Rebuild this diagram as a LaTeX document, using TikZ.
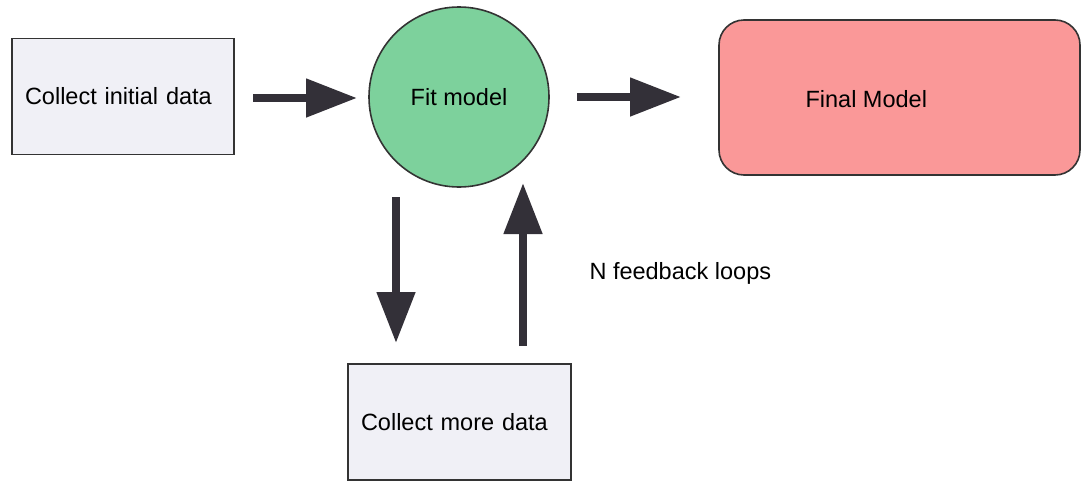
\documentclass[tikz,border=0pt]{standalone}
\usepackage{fontspec}
\setmainfont{Liberation Sans}
\usetikzlibrary{arrows.meta}
\definecolor{boxfill}{HTML}{F0F0F6}
\definecolor{fitgreen}{HTML}{7DD19C}
\definecolor{finalpink}{HTML}{FA9898}
\definecolor{edgegray}{HTML}{333333}
\definecolor{arrowdark}{HTML}{333038}
\tikzset{
  txt/.style={font=\fontsize{23.5}{28}\selectfont, text=black},
  datebox/.style={draw=edgegray, line width=1.6pt, fill=boxfill, minimum width=222pt,
    minimum height=116pt, inner xsep=13pt, text width=196pt, align=left, txt},
  fitcircle/.style={circle, draw=edgegray, line width=1.6pt, fill=fitgreen, minimum size=180pt, txt},
  finalbox/.style={draw=edgegray, line width=1.6pt, fill=finalpink, rounded corners=25pt},
  bigarrow/.style={draw=arrowdark, line width=8pt,
    -{Triangle[length=51pt, width=37pt]}, arrowdark},
}
\begin{document}
\begin{tikzpicture}[x=1pt, y=-1pt]
\useasboundingbox (0,0) rectangle (1081,482);
\fill[white] (0,0) rectangle (1081,482);
% nodes
\node[datebox] (init) at (123,96.5) {Collect initial data};
\node[fitcircle] (fit) at (459,97) {Fit model};
\node[finalbox, minimum width=361pt, minimum height=155pt] (final) at (899.5,97.5) {};
\node[txt, anchor=west] (finaltxt) at (802,99) {Final Model};
\node[datebox, text width=197pt] (more) at (459.5,422) {Collect more data};
\node[txt, anchor=west] (loops) at (586,273) {N feedback loops};
% connector anchor points
\coordinate (a1s) at (253,98);
\coordinate (a1e) at (357,98);
\coordinate (a2s) at (577,97);
\coordinate (a2e) at (681,97);
\coordinate (a3s) at (396,197);
\coordinate (a3e) at (396,343);
\coordinate (a4s) at (523,346);
\coordinate (a4e) at (523,183);
% connectors
\draw[bigarrow] (a1s) -- (a1e);
\draw[bigarrow] (a2s) -- (a2e);
\draw[bigarrow] (a3s) -- (a3e);
\draw[bigarrow] (a4s) -- (a4e);
\end{tikzpicture}
\end{document}
